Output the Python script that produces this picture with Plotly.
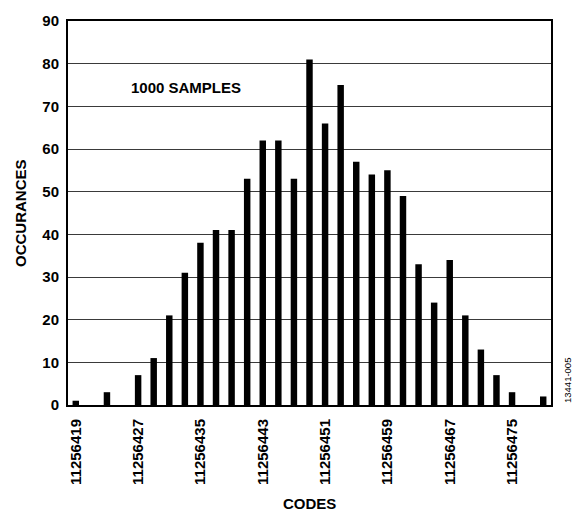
import plotly.graph_objects as go

codes = list(range(11256419, 11256480, 2))
occurrences = [1, 0, 3, 0, 7, 11, 21, 31, 38, 41, 41, 53, 62, 62, 53, 81,
               66, 75, 57, 54, 55, 49, 33, 24, 34, 21, 13, 7, 3, 0, 2]
tick_codes = list(range(11256419, 11256476, 8))
tick_labels = [str(c) for c in tick_codes]
y_ticks = list(range(0, 91, 10))

FONT = "Liberation Sans, Arial, sans-serif"

fig = go.Figure()
fig.add_trace(go.Bar(x=codes, y=occurrences, marker=dict(color="black", line=dict(width=0))))

fig.update_layout(
    width=572, height=513,
    margin=dict(l=68, r=21, t=18, b=108),
    paper_bgcolor="white", plot_bgcolor="white",
    bargap=0.585,
    showlegend=False,
    font=dict(family=FONT, size=15, color="black"),
    xaxis=dict(
        range=[11256418, 11256480],
        tickmode="array", tickvals=tick_codes, ticktext=tick_labels,
        tickangle=-90, showgrid=False, zeroline=False,
        showline=True, linecolor="black", linewidth=2, mirror=True,
        ticks="", ticklabelstandoff=6,
        tickfont=dict(family=FONT, size=15, color="black", weight="bold"),
    ),
    yaxis=dict(
        range=[0, 90],
        tickmode="array", tickvals=y_ticks,
        showgrid=True, gridcolor="#3a3a3a", gridwidth=1.2, zeroline=False,
        showline=True, linecolor="black", linewidth=2, mirror=True,
        ticks="", ticklabelstandoff=4,
        tickfont=dict(family=FONT, size=15, color="black", weight="bold"),
    ),
    annotations=[
        dict(text="<b>1000 SAMPLES</b>", x=11256433.2, y=74.5, xref="x", yref="y",
             showarrow=False, font=dict(family=FONT, size=15, color="black")),
        dict(text="<b>OCCURANCES</b>", x=0, y=0.5, xref="paper", yref="paper",
             xshift=-48, textangle=-90, showarrow=False, xanchor="center", yanchor="middle",
             font=dict(family=FONT, size=15, color="black")),
        dict(text="<b>CODES</b>", x=0.5, y=0, xref="paper", yref="paper",
             yshift=-98, showarrow=False, xanchor="center", yanchor="middle",
             font=dict(family=FONT, size=15, color="black")),
        dict(text="13441-005", x=1, y=0, xref="paper", yref="paper",
             xshift=16, yshift=24, textangle=-90, showarrow=False,
             xanchor="center", yanchor="middle",
             font=dict(family=FONT, size=9.5, color="black")),
    ],
)

fig.write_html("out.html", config={"displayModeBar": False},
               post_script="document.body.style.margin='0';document.body.style.padding='0';")
